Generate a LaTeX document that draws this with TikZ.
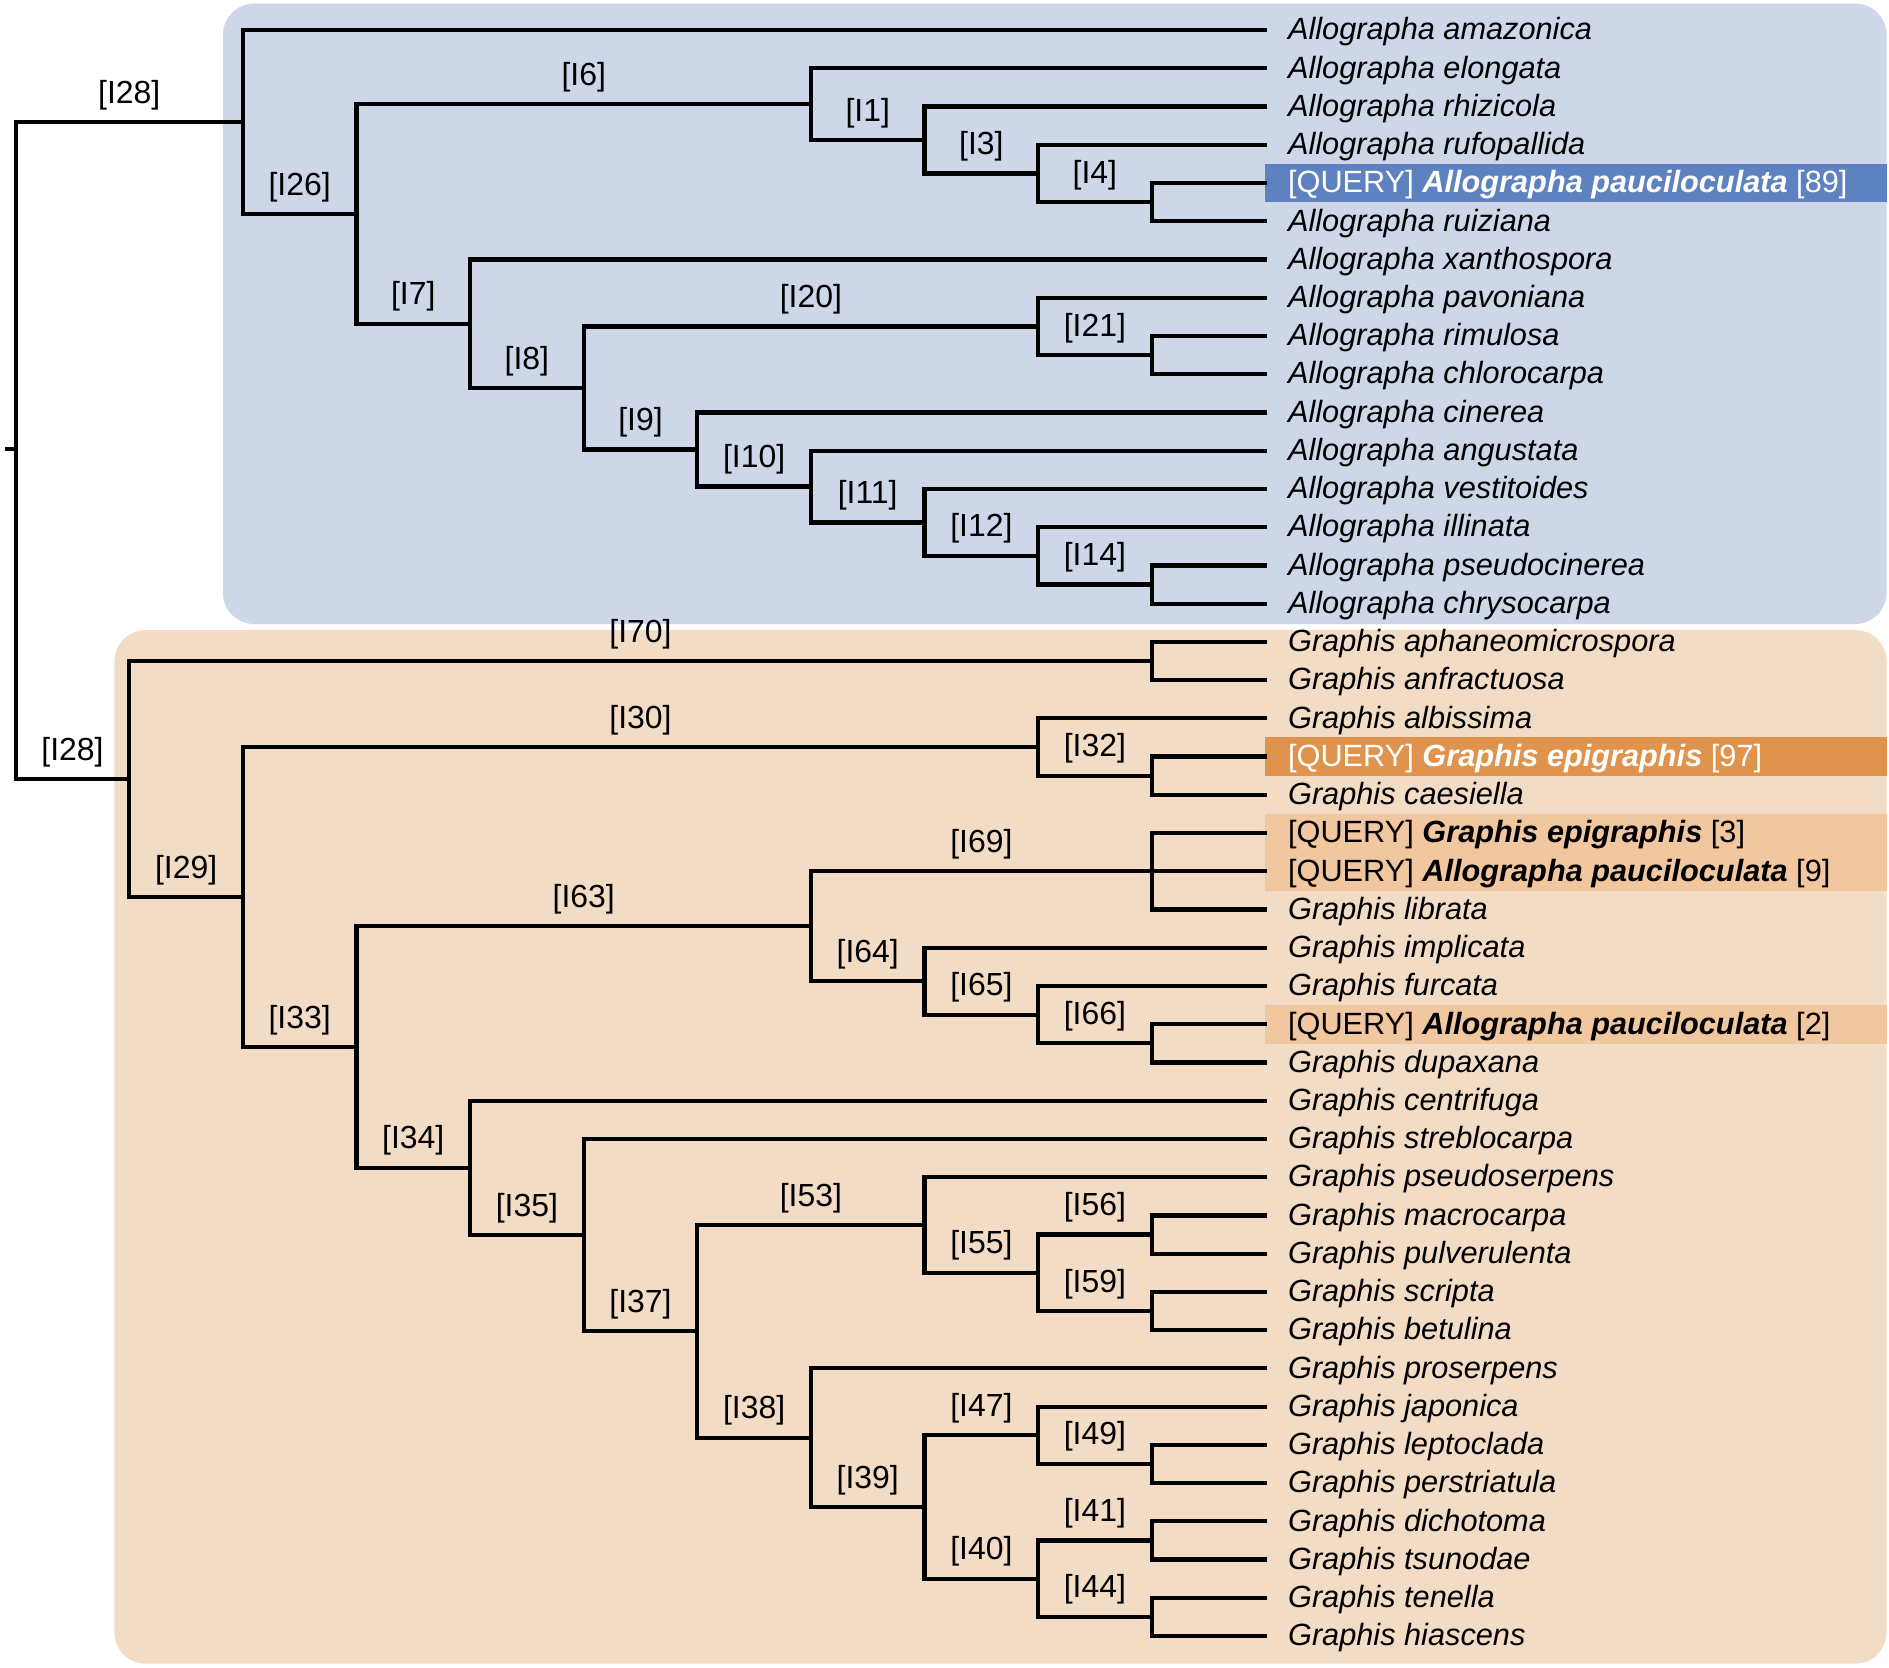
\documentclass[tikz,border=0pt]{standalone}
\usepackage{fontspec}
\setmainfont{Liberation Sans}
\usetikzlibrary{calc}
\definecolor{bluebg}{HTML}{CDD7E8}
\definecolor{orbg}{HTML}{F3DCC5}
\definecolor{bluehl}{HTML}{5E82C0}
\definecolor{orhl}{HTML}{E0934C}
\definecolor{lorhl}{HTML}{F0C79F}
\begin{document}
\begin{tikzpicture}[x=1pt,y=-1pt,
  br/.style={line width=3.5pt,line cap=rect},
  lab/.style={font=\fontsize{26.5}{30}\selectfont,inner sep=1.5pt,yshift=7pt},
  leaflab/.style={anchor=west,font=\fontsize{25.5}{30}\selectfont\itshape,inner sep=0pt,xshift=19pt,yshift=-1.5pt}]
\useasboundingbox (0,0) rectangle (1568,1384);
\fill[bluebg,rounded corners=26pt] (185,3) rectangle (1566,518);
\fill[orbg,rounded corners=26pt] (95,523) rectangle (1566,1381);
\def\ry#1{25+31.738*#1}
\def\lx#1{13+94.3*#1}
% highlight boxes
\fill[bluehl] (1050,{\ry{4}-16}) rectangle (1566,{\ry{4}+16});
\fill[orhl] (1050,{\ry{19}-16}) rectangle (1566,{\ry{19}+16});
\fill[lorhl] (1050,{\ry{21}-16}) rectangle (1566,{\ry{22}+16});
\fill[lorhl] (1050,{\ry{26}-16}) rectangle (1566,{\ry{26}+16});
% leaves
\foreach \i in {0,...,42} \coordinate (l\i) at (1050,{\ry{\i}});
\foreach \i/\t in {0/Allographa amazonica,1/Allographa elongata,2/Allographa rhizicola,3/Allographa rufopallida,5/Allographa ruiziana,6/Allographa xanthospora,7/Allographa pavoniana,8/Allographa rimulosa,9/Allographa chlorocarpa,10/Allographa cinerea,11/Allographa angustata,12/Allographa vestitoides,13/Allographa illinata,14/Allographa pseudocinerea,15/Allographa chrysocarpa,16/Graphis aphaneomicrospora,17/Graphis anfractuosa,18/Graphis albissima,20/Graphis caesiella,23/Graphis librata,24/Graphis implicata,25/Graphis furcata,27/Graphis dupaxana,28/Graphis centrifuga,29/Graphis streblocarpa,30/Graphis pseudoserpens,31/Graphis macrocarpa,32/Graphis pulverulenta,33/Graphis scripta,34/Graphis betulina,35/Graphis proserpens,36/Graphis japonica,37/Graphis leptoclada,38/Graphis perstriatula,39/Graphis dichotoma,40/Graphis tsunodae,41/Graphis tenella,42/Graphis hiascens}
  \node[leaflab] (t\i) at (l\i) {\t};
\node[leaflab,font=\fontsize{25.5}{30}\selectfont,text=white] (t4) at (l4) {[QUERY] \textbf{\textit{Allographa pauciloculata}} [89]};
\node[leaflab,font=\fontsize{25.5}{30}\selectfont,text=white] (t19) at (l19) {[QUERY] \textbf{\textit{Graphis epigraphis}} [97]};
\node[leaflab,font=\fontsize{25.5}{30}\selectfont] (t21) at (l21) {[QUERY] \textbf{\textit{Graphis epigraphis}} [3]};
\node[leaflab,font=\fontsize{25.5}{30}\selectfont] (t22) at (l22) {[QUERY] \textbf{\textit{Allographa pauciloculata}} [9]};
\node[leaflab,font=\fontsize{25.5}{30}\selectfont] (t26) at (l26) {[QUERY] \textbf{\textit{Allographa pauciloculata}} [2]};
% internal node macro: name, level, first child, last child
\newcommand\inode[4]{\path let \p1=($(#3)!0.5!(#4)$) in coordinate (#1) at ({\lx{#2}},\y1);
  \draw[br] (#1|-#3) -- (#1|-#4);}
\newcommand\brn[3]{\draw[br] (#1|-#2) -- (#2) node[lab,midway,above]{#3};}
% Allographa
\inode{a4}{10}{l4}{l5} \brn{a4}{l4}{} \brn{a4}{l5}{}
\inode{a3}{9}{l3}{a4} \brn{a3}{l3}{} \brn{a3}{a4}{[I4]}
\inode{a1}{8}{l2}{a3} \brn{a1}{l2}{} \brn{a1}{a3}{[I3]}
\inode{a6}{7}{l1}{a1} \brn{a6}{l1}{} \brn{a6}{a1}{[I1]}
\inode{a21}{10}{l8}{l9} \brn{a21}{l8}{} \brn{a21}{l9}{}
\inode{a20}{9}{l7}{a21} \brn{a20}{l7}{} \brn{a20}{a21}{[I21]}
\inode{a14}{10}{l14}{l15} \brn{a14}{l14}{} \brn{a14}{l15}{}
\inode{a12}{9}{l13}{a14} \brn{a12}{l13}{} \brn{a12}{a14}{[I14]}
\inode{a11}{8}{l12}{a12} \brn{a11}{l12}{} \brn{a11}{a12}{[I12]}
\inode{a10}{7}{l11}{a11} \brn{a10}{l11}{} \brn{a10}{a11}{[I11]}
\inode{a9}{6}{l10}{a10} \brn{a9}{l10}{} \brn{a9}{a10}{[I10]}
\inode{a8}{5}{a20}{a9} \brn{a8}{a20}{[I20]} \brn{a8}{a9}{[I9]}
\inode{a7}{4}{l6}{a8} \brn{a7}{l6}{} \brn{a7}{a8}{[I8]}
\inode{a26}{3}{a6}{a7} \brn{a26}{a6}{[I6]} \brn{a26}{a7}{[I7]}
\inode{aT}{2}{l0}{a26} \brn{aT}{l0}{} \brn{aT}{a26}{[I26]}
% Graphis
\inode{g70}{10}{l16}{l17} \brn{g70}{l16}{} \brn{g70}{l17}{}
\inode{g32}{10}{l19}{l20} \brn{g32}{l19}{} \brn{g32}{l20}{}
\inode{g30}{9}{l18}{g32} \brn{g30}{l18}{} \brn{g30}{g32}{[I32]}
\inode{g69}{10}{l21}{l23} \brn{g69}{l21}{} \brn{g69}{l22}{} \brn{g69}{l23}{}
\inode{g66}{10}{l26}{l27} \brn{g66}{l26}{} \brn{g66}{l27}{}
\inode{g65}{9}{l25}{g66} \brn{g65}{l25}{} \brn{g65}{g66}{[I66]}
\inode{g64}{8}{l24}{g65} \brn{g64}{l24}{} \brn{g64}{g65}{[I65]}
\inode{g63}{7}{g69}{g64} \brn{g63}{g69}{[I69]} \brn{g63}{g64}{[I64]}
\inode{g56}{10}{l31}{l32} \brn{g56}{l31}{} \brn{g56}{l32}{}
\inode{g59}{10}{l33}{l34} \brn{g59}{l33}{} \brn{g59}{l34}{}
\inode{g55}{9}{g56}{g59} \brn{g55}{g56}{[I56]} \brn{g55}{g59}{[I59]}
\inode{g53}{8}{l30}{g55} \brn{g53}{l30}{} \brn{g53}{g55}{[I55]}
\inode{g49}{10}{l37}{l38} \brn{g49}{l37}{} \brn{g49}{l38}{}
\inode{g47}{9}{l36}{g49} \brn{g47}{l36}{} \brn{g47}{g49}{[I49]}
\inode{g41}{10}{l39}{l40} \brn{g41}{l39}{} \brn{g41}{l40}{}
\inode{g44}{10}{l41}{l42} \brn{g44}{l41}{} \brn{g44}{l42}{}
\inode{g40}{9}{g41}{g44} \brn{g40}{g41}{[I41]} \brn{g40}{g44}{[I44]}
\inode{g39}{8}{g47}{g40} \brn{g39}{g47}{[I47]} \brn{g39}{g40}{[I40]}
\inode{g38}{7}{l35}{g39} \brn{g38}{l35}{} \brn{g38}{g39}{[I39]}
\inode{g37}{6}{g53}{g38} \brn{g37}{g53}{[I53]} \brn{g37}{g38}{[I38]}
\inode{g35}{5}{l29}{g37} \brn{g35}{l29}{} \brn{g35}{g37}{[I37]}
\inode{g34}{4}{l28}{g35} \brn{g34}{l28}{} \brn{g34}{g35}{[I35]}
\inode{g33}{3}{g63}{g34} \brn{g33}{g63}{[I63]} \brn{g33}{g34}{[I34]}
\inode{g29}{2}{g30}{g33} \brn{g29}{g30}{[I30]} \brn{g29}{g33}{[I33]}
\inode{gT}{1}{g70}{g29} \brn{gT}{g70}{[I70]} \brn{gT}{g29}{[I29]}
% root
\inode{root}{0}{aT}{gT} \brn{root}{aT}{[I28]} \brn{root}{gT}{[I28]}
\coordinate (rl) at (4,373);
\draw[br,line cap=butt] (rl) -- (root|-rl);
\end{tikzpicture}
\end{document}
